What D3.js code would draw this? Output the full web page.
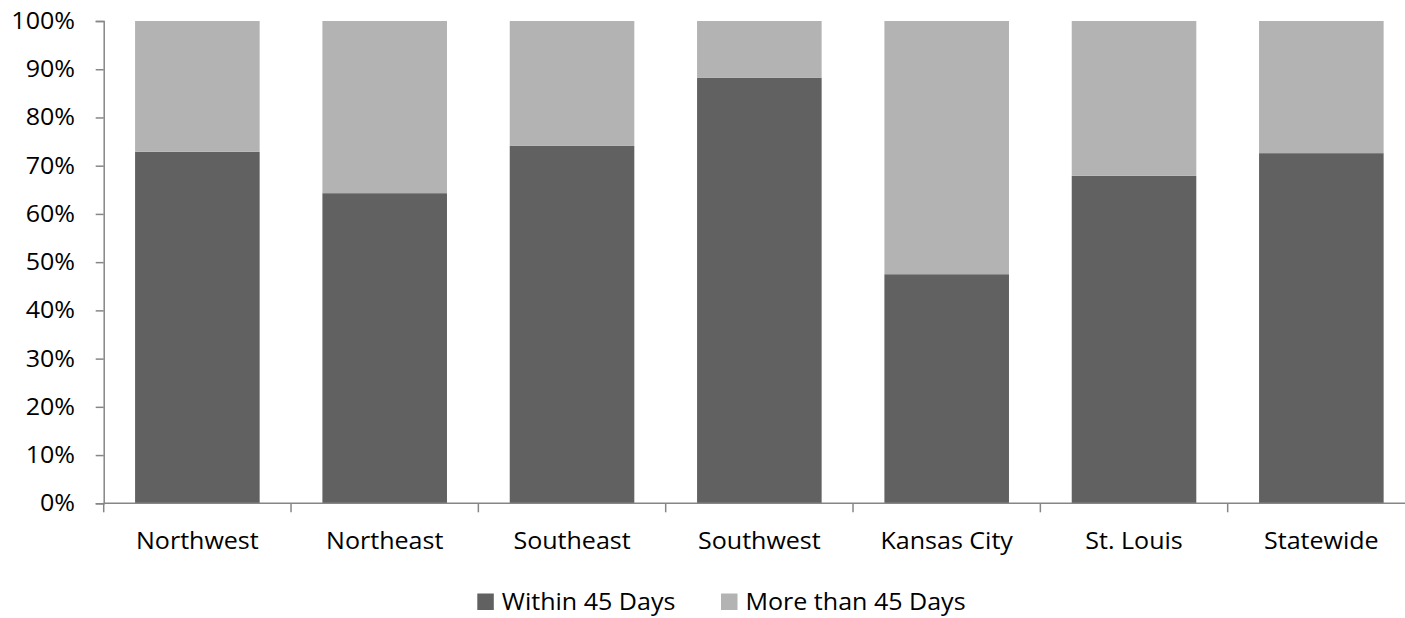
<!DOCTYPE html>
<html><head><meta charset="utf-8">
<script src="https://cdn.jsdelivr.net/npm/d3@7"></script>
<style>
html,body{margin:0;padding:0;background:#fff;}
text{font-family:"Open Sans",sans-serif;fill:#000;}
</style></head>
<body><svg id="c" width="1405" height="618"></svg>
<script>
const categories = ["Northwest","Northeast","Southeast","Southwest","Kansas City","St. Louis","Statewide"];
const within45 = [72.9, 64.3, 74.1, 88.2, 47.5, 67.9, 72.6];
const moreThan45 = within45.map(v => 100 - v);
const seriesNames = ["Within 45 Days","More than 45 Days"];
const seriesColors = ["#616161","#b3b3b3"];
const yTicks = [0,10,20,30,40,50,60,70,80,90,100];

const FS = 23.2, SX = 1.08;
const svg = d3.select("#c");
const mLeft = 103.7, mTop = 21, mBottom = 503.3, mRight = 103.7 + 187.33*7;
const x = d3.scaleBand().domain(categories).range([mLeft, mRight]).paddingInner(0.335).paddingOuter(0.1675);
const y = d3.scaleLinear().domain([0,100]).range([mBottom, mTop]);

const rows = categories.map((c,i)=>({cat:c, a:within45[i], b:moreThan45[i]}));
const stack = d3.stack().keys(["a","b"])(rows);

svg.append("g").selectAll("g").data(stack).join("g")
  .attr("fill",(d,i)=>seriesColors[i])
  .selectAll("rect").data(d=>d).join("rect")
  .attr("x",d=>x(d.data.cat))
  .attr("width",x.bandwidth())
  .attr("y",d=>y(d[1]))
  .attr("height",d=>y(d[0])-y(d[1]));

// y axis
const yAxis = svg.append("g").attr("transform",`translate(${mLeft},0)`)
  .call(d3.axisLeft(y).tickValues(yTicks).tickFormat(d=>d+"%").tickSize(8).tickPadding(20));
yAxis.select(".domain").attr("stroke","#868686").attr("stroke-width",1.5);
yAxis.selectAll(".tick line").attr("stroke","#868686").attr("stroke-width",1.5);
yAxis.selectAll("text").attr("font-size",FS+"px").attr("font-family","Open Sans").attr("fill","#000")
  .attr("x",-28.7/SX).attr("transform",`scale(${SX},1)`);

// x axis
const catTicks = d3.range(categories.length+1).map(i=>mLeft + i*x.step());
svg.append("line").attr("x1",mLeft).attr("x2",mRight).attr("y1",mBottom).attr("y2",mBottom)
  .attr("stroke","#868686").attr("stroke-width",1.5);
svg.append("g").selectAll("line").data(catTicks).join("line")
  .attr("x1",d=>d).attr("x2",d=>d).attr("y1",mBottom).attr("y2",mBottom+9)
  .attr("stroke","#868686").attr("stroke-width",1.5);
svg.append("g").selectAll("text").data(categories).join("text")
  .attr("transform",d=>`translate(${x(d)+x.bandwidth()/2},541) scale(${SX},1)`).attr("dy","0.35em")
  .attr("text-anchor","middle").attr("font-size",FS+"px").text(d=>d);

// legend
const legX = [477.3, 721];
const lg = svg.append("g").selectAll("g").data(seriesNames).join("g")
  .attr("transform",(d,i)=>`translate(${legX[i]},593.5)`);
lg.append("rect").attr("width",16.5).attr("height",16.5).attr("fill",(d,i)=>seriesColors[i]);
lg.append("text").attr("transform",`translate(24.5,8.5) scale(${SX},1)`).attr("dy","0.35em").attr("font-size",FS+"px").text(d=>d);
</script></body></html>
